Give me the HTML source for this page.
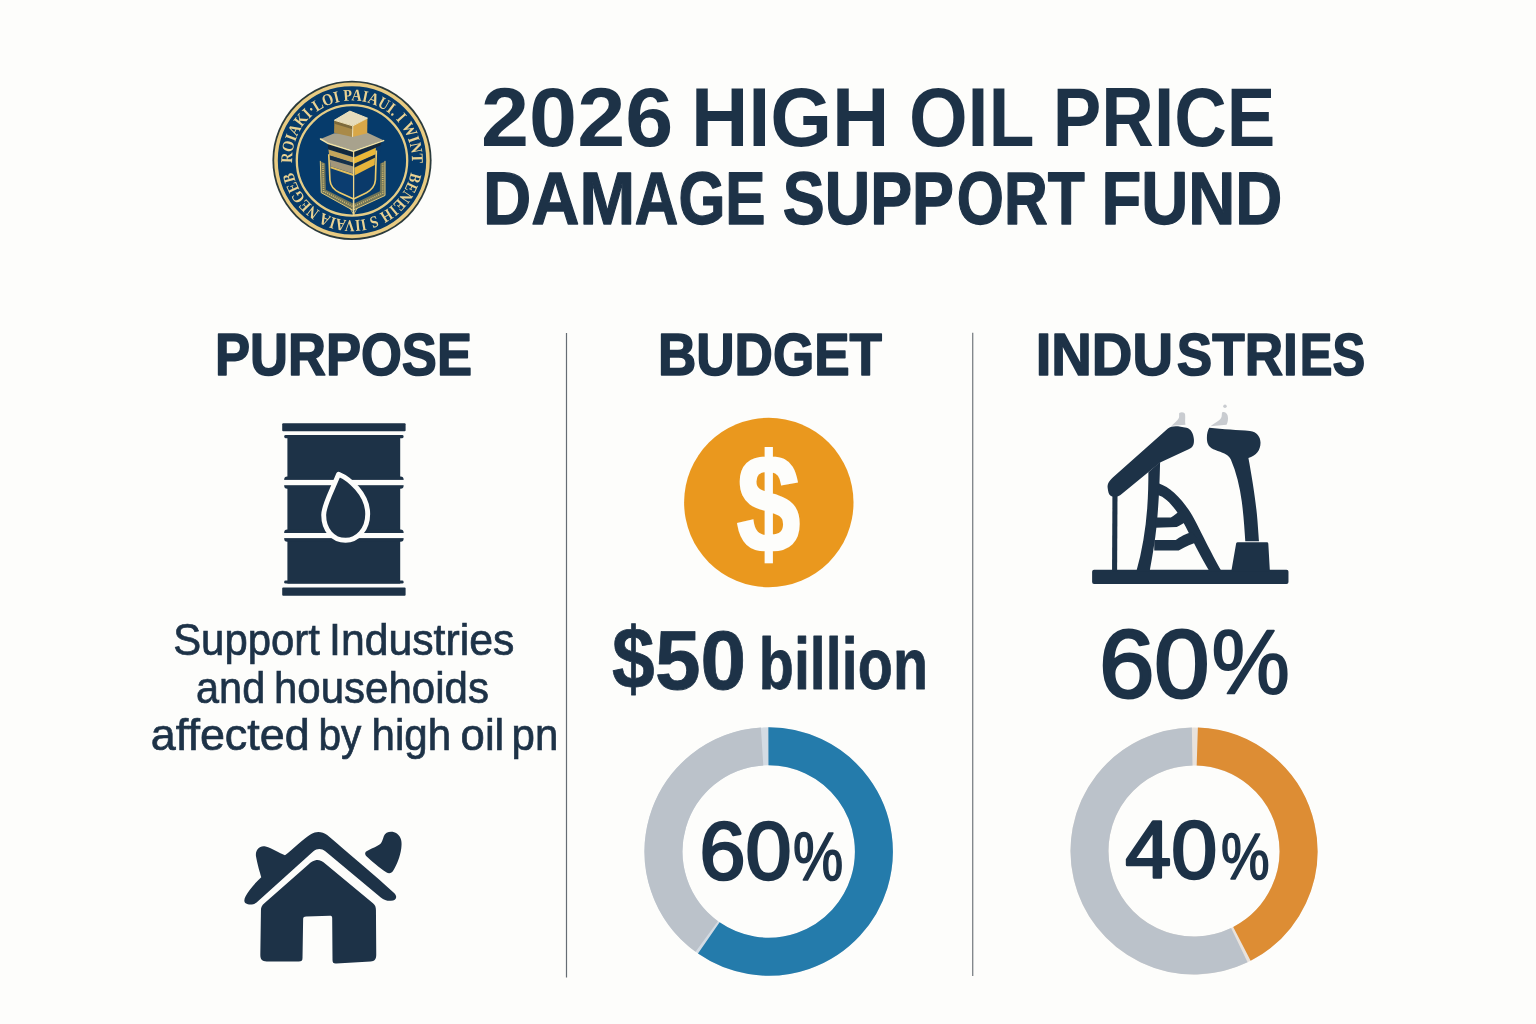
<!DOCTYPE html>
<html lang="en">
<head>
<meta charset="utf-8">
<title>2026 High Oil Price Damage Support Fund</title>
<style>
  html, body { margin: 0; padding: 0; background: #fdfdfb; }
  body { width: 1536px; height: 1024px; overflow: hidden; }
  svg { display: block; }
  text { font-family: "Liberation Sans", sans-serif; fill: #1d3247; }
  .b { font-weight: 700; }
  .bs { font-weight: 700; stroke: #1d3247; stroke-width: 1.6px; stroke-linejoin: round; }
  .m { font-weight: 400; stroke: #1d3247; stroke-width: 1.6px; stroke-linejoin: round; }
  .r { font-weight: 400; stroke: #1d3247; stroke-width: 0.7px; }
  .seal { font-family: "Liberation Serif", serif; font-weight: 700; fill: #ead292; }
</style>
</head>
<body>
<svg width="1536" height="1024" viewBox="0 0 1536 1024">
  <rect width="1536" height="1024" fill="#fdfdfb"/>

  <!-- ============ TITLE ============ -->
  <g id="title">
    <text class="b" y="145.5" font-size="83"><tspan id="t1a" x="481.1" textLength="192.1" lengthAdjust="spacingAndGlyphs">2026</tspan> <tspan id="t1b" x="690.9" textLength="198.5" lengthAdjust="spacingAndGlyphs">HIGH</tspan> <tspan id="t1c" x="908.9" textLength="124.3" lengthAdjust="spacingAndGlyphs">OIL</tspan> <tspan id="t1d" x="1052.8" textLength="222.5" lengthAdjust="spacingAndGlyphs">PRICE</tspan></text>
    <text class="bs" y="223.6" font-size="74" style="stroke-width:1.3px"><tspan id="t2a" x="483.0" textLength="152.1" lengthAdjust="spacingAndGlyphs">DAM</tspan><tspan id="t2a2" x="634.8" textLength="130.8" lengthAdjust="spacingAndGlyphs">AGE</tspan> <tspan id="t2b" x="782.8" textLength="171.2" lengthAdjust="spacingAndGlyphs">SUPP</tspan><tspan id="t2b2" x="956.8" textLength="128.0" lengthAdjust="spacingAndGlyphs">ORT</tspan> <tspan id="t2c" x="1101.5" textLength="180.8" lengthAdjust="spacingAndGlyphs">FUND</tspan></text>
  </g>

  <!-- ============ SEAL ============ -->
  <g id="seal">
    <defs>
      <path id="sealTop" d="M292.16 163.01 A59.90 59.90 0 1 1 410.99 170.80"/>
      <path id="sealBot" d="M410.70 172.34 A59.90 59.90 0 0 1 292.68 168.74"/>
    </defs>
    <circle cx="352" cy="160.4" r="79.6" fill="#2a3a3c"/>
    <circle cx="352" cy="160.4" r="76" fill="#063a69" stroke="#e8cb82" stroke-width="3.6"/>
    <circle cx="352" cy="160.4" r="55.2" fill="#063b6b" stroke="#e6cd86" stroke-width="2.3"/>
    <text class="seal" font-size="16.5" textLength="193.4" lengthAdjust="spacingAndGlyphs"><textPath href="#sealTop" textLength="193.4" lengthAdjust="spacingAndGlyphs">ROIAKI·LOI PAIAUI. I WINT</textPath></text>
    <text class="seal" font-size="16.5" textLength="164.1" lengthAdjust="spacingAndGlyphs"><textPath href="#sealBot" textLength="164.1" lengthAdjust="spacingAndGlyphs">BENEIH S IIVAIA NEGEB</textPath></text>
    <g id="emblem" transform="translate(310 105) scale(0.11724)">
      <!-- ornament frame -->
      <path d="M88 480 L96 748 L366 898 L640 772 L640 480 L600 500 L596 735 L372 842 L136 722 L130 500 Z" fill="#6f7458"/>
      <path d="M110 500 L116 735 L368 868 L620 752 L620 500" fill="none" stroke="#cdb66e" stroke-width="14" stroke-dasharray="9 9"/>
      <path d="M88 480 L96 748 L366 898 L640 772 L640 480" fill="none" stroke="#e9cf7e" stroke-width="8" stroke-linejoin="round" stroke-linecap="round"/>
      <path d="M372 800 L372 940" stroke="#f0dc9c" stroke-width="13" stroke-linecap="round"/>
      <path d="M340 878 L372 935 L404 878" stroke="#e0c878" stroke-width="7" fill="none"/>
      <!-- pillar faces (blue) -->
      <path d="M150 325 L370 392 L370 800 L250 742 C200 718 178 690 174 640 Z" fill="#0b3d70"/>
      <path d="M370 392 L612 306 L556 640 C552 690 530 716 480 744 L370 800 Z" fill="#0a3a6a"/>
      <!-- left stripes -->
      <path d="M150 328 L370 394 L370 442 L156 378 Z" fill="#12283d"/>
      <path d="M157 380 L370 445 L370 492 L164 428 Z" fill="#c4a55c"/>
      <path d="M165 430 L370 494 L370 522 L170 466 Z" fill="#16304a"/>
      <path d="M170 468 L370 525 L370 585 L174 522 Z" fill="#a2967a"/>
      <path d="M174 522 L370 586 L370 606 L175 540 Z" fill="#e3bf5c"/>
      <!-- right stripes -->
      <path d="M370 394 L610 308 L602 346 L372 442 Z" fill="#13283c"/>
      <path d="M374 448 L562 364 L560 420 L376 502 Z" fill="#ebb838"/>
      <path d="M376 506 L558 424 L556 446 L378 532 Z" fill="#15293c"/>
      <path d="M378 536 L554 450 L552 512 L380 602 Z" fill="#e6b43b"/>
      <!-- shield outline -->
      <path d="M160 420 L170 640 C174 692 200 722 250 746 L372 802 L482 748 C532 720 554 692 558 640 L566 388" fill="none" stroke="#eccb6c" stroke-width="14" stroke-linejoin="round"/>
      <path d="M372 396 L372 802" stroke="#efd588" stroke-width="11" fill="none"/>
      <!-- slab -->
      <path d="M90 290 L208 240 L490 236 L626 300 L370 388 L150 322 Z" fill="#a8a28d"/>
      <path d="M90 290 L150 326 L370 394 L628 304" fill="none" stroke="#f3e3a6" stroke-width="13" stroke-linejoin="round" stroke-linecap="round"/>
      <!-- cube -->
      <path d="M208 130 L340 52 L490 112 L365 178 Z" fill="#e6dcbc"/>
      <path d="M208 130 L365 178 L362 274 L205 236 Z" fill="#a98a48"/>
      <path d="M365 178 L490 112 L488 242 L362 274 Z" fill="#d8a748"/>
      <path d="M210 134 L364 182 L364 206 L208 160 Z" fill="#7d6a3c"/>
      <path d="M208 130 L340 52 L490 112 L365 178 Z M365 178 L363 272" fill="none" stroke="#f4e8be" stroke-width="8" stroke-linejoin="round"/>
    </g>
  </g>

  <!-- ============ DIVIDERS ============ -->
  <g id="dividers">
    <line x1="566.5" y1="333" x2="566.5" y2="977.4" stroke="#666d74" stroke-width="1.2"/>
    <line x1="972.7" y1="332.8" x2="972.7" y2="976" stroke="#80868a" stroke-width="1.35"/>
  </g>

  <!-- ============ COLUMN HEADERS ============ -->
  <g id="headers">
    <text id="h1" class="bs" x="214.9" y="375.4" font-size="60" textLength="257.1" lengthAdjust="spacingAndGlyphs">PURPOSE</text>
    <text id="h2" class="bs" x="657.9" y="375.4" font-size="60" textLength="224.1" lengthAdjust="spacingAndGlyphs">BUDGET</text>
    <text class="bs" y="375.4" font-size="60"><tspan id="h3a" x="1035.7" textLength="137.3" lengthAdjust="spacingAndGlyphs">INDU</tspan><tspan id="h3b" x="1176.8" textLength="121.1" lengthAdjust="spacingAndGlyphs">STRI</tspan><tspan id="h3c" x="1299.7" textLength="65.4" lengthAdjust="spacingAndGlyphs">ES</tspan></text>
  </g>

  <!-- ============ PURPOSE COLUMN ============ -->
  <g id="barrel">
    <g fill="#1d3247">
      <rect x="282.2" y="423.3" width="123.4" height="7.9" rx="1"/>
      <rect x="282.2" y="587.5" width="123.4" height="8.2" rx="1"/>
      <rect x="287.4" y="435" width="112.8" height="148.6"/>
      <!-- rolling hoops -->
      <rect x="284.2" y="435" width="119.4" height="3.2" rx="1.4"/>
      <rect x="284.2" y="476.4" width="119.4" height="12.4" rx="3"/>
      <rect x="284.2" y="529.4" width="119.4" height="12.4" rx="3"/>
      <rect x="284.2" y="580.4" width="119.4" height="3.2" rx="1.4"/>
    </g>
    <g fill="#fdfdfb">
      <rect x="283.5" y="479.9" width="121" height="5.3"/>
      <rect x="283.5" y="533" width="121" height="5.1"/>
    </g>
    <path d="M338.6 474.2 C349 478.5 367.7 494 367.7 514 C367.7 530 357 540.3 345.6 540.3 C333 540.3 323.7 530 323.7 515 C323.7 505 331 493 338.6 474.2 Z" fill="#1d3247" stroke="#fdfdfb" stroke-width="4.9" stroke-linejoin="round"/>
  </g>

  <g id="purpose-text">
    <text class="r" y="654.9" font-size="43.5"><tspan id="p1a" x="173.2" textLength="146.6" lengthAdjust="spacingAndGlyphs">Support</tspan> <tspan id="p1b" x="329.1" textLength="185.2" lengthAdjust="spacingAndGlyphs">Industries</tspan></text>
    <text class="r" y="702.7" font-size="44"><tspan id="p2a" x="196.1" textLength="69.1" lengthAdjust="spacingAndGlyphs">and</tspan> <tspan id="p2b" x="274.0" textLength="214.9" lengthAdjust="spacingAndGlyphs">househoids</tspan></text>
    <text class="r" y="750" font-size="44"><tspan id="p3a" x="150.8" textLength="158.9" lengthAdjust="spacingAndGlyphs">affected</tspan> <tspan id="p3b" x="318.5" textLength="42.9" lengthAdjust="spacingAndGlyphs">by</tspan> <tspan id="p3c" x="371.6" textLength="79.6" lengthAdjust="spacingAndGlyphs">high</tspan> <tspan id="p3d" x="460.6" textLength="43.7" lengthAdjust="spacingAndGlyphs">oil</tspan> <tspan id="p3e" x="511.6" textLength="46.7" lengthAdjust="spacingAndGlyphs">pn</tspan></text>
  </g>

  <g id="house" transform="translate(230 815) scale(0.15625)" fill="#1d3247">
    <!-- body with door -->
    <path d="M548 290 C565 284 590 294 612 314 L915 565 C930 578 934 590 934 610 L936 895 C936 925 925 936 900 937 L680 950 C662 951 656 945 656 928 L654 660 C654 648 650 645 638 645 L488 650 C472 651 468 655 468 668 L464 915 C464 932 458 937 440 937 L235 937 C205 937 194 925 194 895 L198 610 C198 588 204 578 220 564 L500 318 C520 300 535 294 548 290 Z"/>
    <!-- roof chevron with chimney -->
    <path d="M100 520 C120 480 165 430 200 398 C192 370 176 320 166 262 C162 225 190 192 228 202 C270 214 315 245 352 258 C400 222 470 150 520 122 C550 102 590 104 622 128 C760 245 930 390 1052 500 C1075 525 1062 548 1030 549 C1005 550 985 545 965 528 L610 232 C585 212 558 212 534 232 L170 560 C150 576 120 578 100 565 C88 555 90 538 100 520 Z"/>
    <!-- detached blob -->
    <path d="M985 135 C995 105 1040 100 1068 118 C1098 140 1102 175 1096 215 C1088 270 1068 320 1045 355 C1035 372 1018 378 1000 366 C955 335 905 295 875 265 C860 250 862 236 880 228 C912 213 945 200 962 186 C975 172 978 155 985 135 Z"/>
  </g>

  <!-- ============ BUDGET COLUMN ============ -->
  <g id="coin">
    <circle cx="768.8" cy="502.5" r="84.7" fill="#ea981e"/>
    <text id="c1" class="b" x="736.8" y="551.8" font-size="139.5" textLength="63.5" lengthAdjust="spacingAndGlyphs" style="fill:#fdfdfb;stroke:#fdfdfb;stroke-width:2.6px;stroke-linejoin:miter">$</text>
  </g>

  <g id="budget-amount">
    <text class="bs" y="689" font-size="83" style="stroke-width:0.8px"><tspan id="a0" x="611.9" y="688.8" font-size="86.4" textLength="42.6" lengthAdjust="spacingAndGlyphs">$</tspan><tspan id="a1" x="655.0" y="689" textLength="91.2" lengthAdjust="spacingAndGlyphs">50</tspan></text>
    <text id="a2" class="bs" x="758.8" y="688.6" font-size="72" textLength="169.2" lengthAdjust="spacingAndGlyphs" style="stroke-width:0.8px">billion</text>
  </g>

  <g id="donut-budget" fill="none" stroke-width="38">
    <circle cx="768.7" cy="851.5" r="105.2" stroke="#d3dbe3"/>
    <path d="M768.42 746.30 A105.20 105.20 0 1 1 708.81 937.99" stroke="#247bab"/>
    <path d="M706.72 936.50 A105.20 105.20 0 0 1 762.09 746.51" stroke="#bbc2ca"/>
    <text class="m"><tspan id="d1a" style="stroke-width:2.6px" x="699.4" y="878.9" font-size="81.0" textLength="92.0" lengthAdjust="spacingAndGlyphs">60</tspan><tspan id="d1b" x="792.9" y="879.8" font-size="68.2" textLength="50.2" lengthAdjust="spacingAndGlyphs">%</tspan></text>
  </g>

  <!-- ============ INDUSTRIES COLUMN ============ -->
  <g id="pumpjack" transform="translate(1080 395) scale(0.19538)" fill="#1d3247">
    <!-- vapour wisps -->
    <g fill="#c9ccd0">
      <path d="M508 92 C520 86 536 88 538 100 C540 118 536 140 540 152 L468 158 C480 146 500 132 506 118 C509 108 506 98 508 92 Z"/>
      <path d="M728 88 C740 84 752 92 756 106 C760 124 756 142 750 152 L668 160 C684 146 712 134 722 118 C728 108 724 96 728 88 Z"/>
      <circle cx="742" cy="58" r="9"/>
    </g>
    <!-- base -->
    <rect x="62" y="895" width="1005" height="72" rx="10"/>
    <!-- thin rod -->
    <path d="M166 505 L192 505 L190 905 L164 905 Z"/>
    <!-- walking beam -->
    <path d="M142 478 C138 455 150 438 168 422 L450 172 C470 156 500 158 545 168 C568 174 580 196 583 226 C585 252 578 268 556 278 L410 345 L215 505 C195 522 170 528 155 515 C146 506 144 492 142 478 Z"/>
    <!-- samson post: left leg -->
    <path d="M350 395 L410 343 C408 420 406 500 398 600 C390 720 372 820 356 905 L288 905 C318 800 336 690 344 580 C349 510 350 450 350 395 Z"/>
    <!-- samson post: right curved leg -->
    <path d="M402 452 C474 476 546 556 596 656 C646 756 694 850 726 905 L664 905 C626 840 586 764 541 674 C496 589 450 526 396 510 Z"/>
    <!-- cross bars -->
    <path d="M385 627 L465 627 C480 618 500 598 520 588 L560 640 C535 652 515 668 495 676 L385 680 Z"/>
    <path d="M380 742 L490 742 C510 728 540 708 575 702 L610 750 C575 760 540 776 505 796 L380 796 Z"/>
    <!-- horsehead + arm -->
    <path d="M662 168 C730 176 810 180 870 184 C905 188 924 214 924 245 C924 285 900 312 862 322 C880 420 900 540 908 640 C912 690 914 720 916 748 L846 748 C842 690 838 620 828 545 C818 470 800 395 772 330 C762 308 740 298 705 286 C672 276 652 262 650 232 C648 205 652 184 662 168 Z"/>
    <!-- motor box -->
    <path d="M806 754 L958 754 C962 754 964 758 964 764 L972 905 L774 905 L798 766 C799 758 802 754 806 754 Z"/>
  </g>

  <g id="industries-share">
    <text class="m"><tspan id="i1a" style="stroke-width:3px" x="1099.2" y="696.5" font-size="96.9" textLength="110.2" lengthAdjust="spacingAndGlyphs">60</tspan><tspan id="i1b" style="stroke-width:1.8px" x="1211.6" y="693.3" font-size="90.5" textLength="78.4" lengthAdjust="spacingAndGlyphs">%</tspan></text>
  </g>

  <g id="donut-industries" fill="none" stroke-width="38">
    <circle cx="1194" cy="851" r="104.5" stroke="#e8e2dc"/>
    <path d="M1197.28 746.55 A104.50 104.50 0 0 1 1241.93 943.86" stroke="#dd8d34"/>
    <path d="M1239.32 945.16 A104.50 104.50 0 1 1 1192.18 746.52" stroke="#bbc2ca"/>
    <text class="m"><tspan id="d2a" style="stroke-width:2.6px" x="1125.2" y="878.4" font-size="81.0" textLength="91.9" lengthAdjust="spacingAndGlyphs">40</tspan><tspan id="d2b" x="1221.0" y="878.8" font-size="65.4" textLength="48.6" lengthAdjust="spacingAndGlyphs">%</tspan></text>
  </g>
</svg>
</body>
</html>
